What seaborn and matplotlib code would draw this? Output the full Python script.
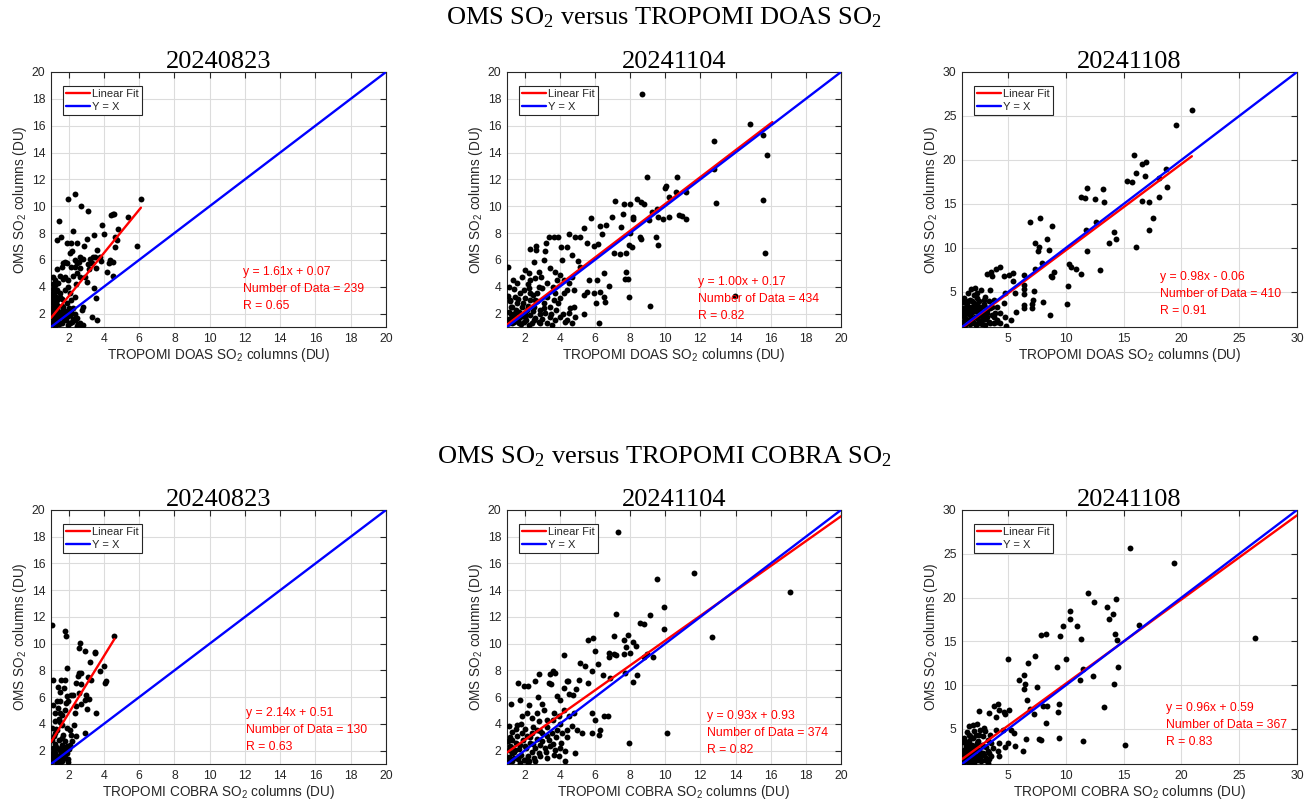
import numpy as np
import pandas as pd
import matplotlib
matplotlib.use("Agg")
import matplotlib.pyplot as plt
import seaborn as sns

# ---------------- data ----------------
dates = ["20240823", "20241104", "20241108"]
products = ["DOAS", "COBRA"]

doas_0823_x = [1.95, 2.34, 1.47, 2.72, 3.12, 2.25, 1.57, 1.36, 1.89, 2.15, 2.46, 2.87, 3.02, 3.46, 3.91, 3.99,
               4.38, 4.5, 4.6, 4.8, 4.74, 4.65, 4.63, 5.37, 6.12, 5.88, 4.35, 4.54, 4.29, 4.19, 3.78, 3.85,
               3.59, 3.38, 3.48, 3.55, 3.31, 3.21, 3.1, 3.17, 2.83, 2.64, 2.6, 2.46, 2.34, 2.17, 2.08, 1.93,
               1.81, 1.7, 1.6, 1.36, 2.15, 2.38, 2.64, 2.47, 2.91, 2.64, 2.23, 1.79, 1.51, 1.66, 1.95, 1.98,
               2.42, 3.06, 3.44, 3.55, 4.54, 3.31, 3.59, 2.81, 2.74, 1.09, 1.23, 1.36, 1.51, 1.29, 1.6, 1.13,
               1.32, 1.7, 1.89, 2.12, 2.36, 2.08, 1.79, 1.13, 1.42, 1.7, 2.08, 2.36, 2.64, 2.83, 2.45, 1.98,
               1.51, 1.23, 1.09, 1.32, 1.6, 1.89, 2.23, 2.17, 1.13, 1.09, 1.21, 1.09,
               1.05, 1.1, 1.05, 1.1, 1.05, 1.1, 1.2, 1.3, 1.4, 1.45, 1.55, 1.65, 1.75, 1.85, 1.95, 2.05,
               2.15, 2.25, 2.35, 2.5, 1.2, 1.35, 1.5, 1.25, 1.4, 2.55, 2.7, 1.6, 1.8, 2.0]
doas_0823_y = [10.5, 10.9, 8.92, 10.0, 9.64, 8.15, 7.68, 7.46, 7.28, 7.28, 7.28, 7.04, 7.58, 7.83, 8.63, 7.93,
               9.32, 9.42, 9.42, 8.28, 7.48, 7.73, 6.99, 9.22, 10.51, 7.04, 6.0, 5.87, 5.79, 5.1, 6.24, 5.89,
               6.74, 6.19, 6.19, 5.37, 5.79, 6.09, 5.69, 5.35, 6.04, 6.24, 5.87, 5.74, 5.99, 6.64, 6.49, 5.74,
               5.84, 5.74, 5.5, 5.3, 5.5, 5.5, 5.37, 5.0, 4.75, 4.7, 4.8, 4.7, 4.8, 4.6, 4.5, 4.0,
               4.2, 4.35, 3.88, 3.14, 4.8, 1.77, 1.52, 2.52, 2.27, 3.86, 4.13, 3.76, 3.51, 3.26, 3.06, 3.01,
               2.64, 2.52, 2.76, 3.01, 3.26, 3.51, 3.76, 2.02, 1.77, 1.65, 1.89, 1.52, 1.27, 1.15, 1.07, 1.15,
               1.27, 1.4, 1.65, 2.27, 2.2, 2.14, 2.39, 1.4, 2.52, 3.51, 4.5, 4.75,
               1.3, 1.8, 2.3, 2.8, 3.3, 4.2, 1.1, 1.5, 2.0, 1.2, 1.9, 1.3, 2.0, 1.5, 1.8, 1.3,
               2.1, 1.6, 2.0, 1.7, 2.6, 3.0, 3.2, 3.6, 4.3, 1.2, 1.1, 2.6, 2.2, 2.4]

doas_1104_x = [8.69, 14.83, 15.55, 15.77, 12.78, 12.8, 12.91, 15.56, 15.7, 13.99, 8.99, 10.68, 10.03, 9.96, 10.22,
               10.62, 11.17, 10.81, 10.98, 11.21, 10.2, 9.86, 9.52, 9.61, 9.27, 9.06, 8.63, 8.8, 7.99, 7.65,
               8.37, 7.14, 7.58, 6.97, 8.16, 8.18, 8.56, 8.65, 8.01, 7.93, 8.1, 9.48, 9.58, 7.78, 7.74, 7.86,
               7.93, 9.11, 7.46, 7.76, 7.44, 7.06, 6.63, 6.3, 6.38, 5.77, 5.36, 6.15, 5.96, 5.55, 5.17, 4.88,
               4.5, 4.05, 4.41, 3.9, 3.69, 3.41, 3.23, 2.63, 2.63, 2.33, 2.52, 3.18, 3.12, 4.13, 4.69, 5.02,
               5.17, 5.64, 6.11, 6.5, 6.27, 5.96, 5.56, 5.39, 6.5, 6.59, 6.08, 5.38, 6.25, 6.78, 1.06, 1.13,
               1.32, 1.57, 1.85, 2.04, 2.23, 2.33, 2.61, 2.8, 2.95, 2.8, 3.46, 3.75, 3.84, 4.03, 4.26, 4.5,
               4.69, 4.79, 4.41, 4.22, 4.03, 3.75, 3.65, 3.46, 3.27, 3.08, 2.89, 3.18, 3.46, 3.75, 4.03, 4.31,
               4.5, 4.79, 4.88, 4.69, 3.56, 2.89, 2.52, 2.23, 1.95, 1.66, 1.38, 1.09, 1.28, 1.47, 1.76, 2.04,
               2.14, 1.85, 1.57, 1.28, 1.09, 1.19, 1.47, 1.76, 2.04, 2.33, 2.52, 2.7, 2.33, 2.61, 1.95, 2.23,
               1.1, 1.2, 1.3, 1.4, 1.5, 1.6, 1.7, 1.8, 1.9, 2.0, 2.1, 2.2, 2.3, 2.4, 2.5, 2.6, 2.7, 2.8,
               2.9, 3.0, 3.1, 3.3, 1.15, 1.25, 1.05, 1.6, 1.4, 3.5, 3.8, 4.2, 4.4, 3.9, 4.6, 2.2, 2.5, 3.0,
               3.3, 3.6]
doas_1104_y = [18.36, 16.15, 15.28, 13.82, 14.83, 12.77, 10.26, 10.46, 6.49, 3.33, 12.2, 12.15, 11.51, 11.38, 10.66,
               11.08, 11.08, 9.35, 9.3, 9.02, 9.22, 9.02, 9.77, 9.22, 9.59, 8.97, 10.34, 10.17, 10.14, 10.17,
               10.51, 10.36, 9.39, 9.22, 9.22, 9.05, 7.73, 7.56, 7.98, 7.11, 6.99, 7.68, 7.09, 5.1, 4.6, 4.6,
               3.21, 2.59, 8.43, 6.49, 6.41, 6.54, 8.6, 8.53, 7.9, 9.15, 8.35, 7.18, 7.04, 7.28, 7.68, 7.68,
               7.93, 6.99, 6.99, 7.71, 7.73, 7.73, 7.28, 7.04, 6.74, 6.81, 5.87, 6.66, 5.99, 5.99, 6.36, 5.94,
               5.5, 4.5, 4.5, 5.0, 3.63, 3.51, 3.63, 3.38, 3.26, 2.89, 2.76, 1.97, 1.32, 4.06, 5.45, 4.0,
               4.5, 4.25, 4.75, 5.25, 5.0, 4.5, 4.63, 5.12, 4.75, 4.0, 5.37, 5.12, 4.5, 4.87, 4.5, 4.25,
               4.75, 3.76, 3.76, 3.51, 3.14, 3.51, 3.01, 2.52, 3.26, 2.76, 2.27, 2.02, 1.77, 1.52, 1.77, 1.4,
               2.02, 2.52, 1.77, 1.27, 1.15, 1.27, 1.52, 1.15, 1.4, 1.27, 1.4, 1.27, 1.77, 2.02, 1.77, 1.77,
               2.27, 2.52, 2.76, 2.52, 2.14, 3.01, 3.26, 3.51, 3.14, 3.01, 2.52, 3.51, 3.51, 3.01, 3.76, 3.88,
               1.6, 2.0, 1.3, 1.9, 2.3, 1.5, 2.1, 1.2, 2.8, 2.0, 1.5, 2.6, 1.9, 1.3, 2.2, 1.7, 2.9, 1.4,
               2.0, 1.6, 2.4, 1.3, 2.9, 2.5, 3.3, 3.1, 3.8, 2.0, 2.3, 2.0, 1.5, 2.8, 2.4, 4.2, 3.4, 3.9,
               4.3, 4.0]

doas_1108_x = [20.9, 19.49, 15.92, 16.9, 16.61, 16.06, 16.84, 15.31, 15.69, 18.02, 18.65, 18.74, 18.02, 16.61,
               17.22, 17.56, 17.22, 16.06, 11.8, 11.34, 11.63, 12.49, 13.18, 13.3, 12.58, 11.74, 11.8, 11.34,
               10.85, 10.45, 10.3, 12.95, 13.7, 14.19, 14.31, 10.19, 10.1, 8.81, 8.4, 8.49, 7.91, 8.95, 8.69,
               8.83, 6.85, 7.71, 7.31, 7.68, 7.54, 7.36, 7.25, 7.16, 7.08, 7.05, 7.97, 8.6, 6.36, 6.39, 6.39,
               6.41, 6.33, 6.41, 5.38, 5.03, 5.41, 5.61, 5.7, 5.2, 4.25, 3.91, 3.16, 3.53, 3.62, 3.42, 2.61,
               2.15, 1.78, 4.65, 4.74, 4.6, 4.74, 4.8, 4.31, 4.02, 3.74, 3.45, 3.16, 2.87, 2.58, 2.3, 2.01,
               1.72, 1.43, 1.14, 1.29, 1.58, 1.86, 2.15, 2.44, 2.73, 3.02, 3.31, 3.74, 4.02, 4.31, 1.09, 1.37,
               1.58, 1.86, 2.15, 2.44, 2.73, 3.02, 1.72, 2.3, 2.58, 2.87, 3.16, 3.59, 3.88, 2.01, 1.49, 2.3,
               1.1, 1.2, 1.3, 1.4, 1.5, 1.6, 1.7, 1.8, 1.9, 2.0, 2.1, 2.2, 2.3, 2.4, 2.5, 2.6, 2.7, 2.8,
               2.9, 3.0, 3.2, 3.4, 3.6, 3.8, 4.0, 1.05, 1.2, 1.5, 1.9, 2.5, 3.0, 3.3, 1.1, 1.35, 2.05]
doas_1108_y = [25.68, 23.93, 20.51, 19.79, 19.49, 18.5, 18.12, 17.59, 17.51, 17.93, 18.99, 16.9, 15.77, 15.31,
               15.2, 13.45, 12.05, 10.15, 16.76, 15.84, 15.69, 15.54, 16.64, 15.27, 12.99, 12.05, 9.66, 7.04,
               7.57, 7.8, 8.18, 7.49, 10.6, 11.82, 10.98, 5.67, 3.58, 12.54, 10.98, 9.73, 8.33, 7.26, 6.81,
               6.73, 12.92, 13.38, 10.57, 10.15, 9.62, 7.57, 5.06, 4.08, 3.58, 3.13, 3.85, 2.4, 6.96, 5.75,
               5.37, 4.76, 3.51, 3.13, 7.11, 6.92, 6.28, 4.83, 2.67, 1.8, 7.8, 7.64, 7.04, 7.26, 6.81, 5.21,
               5.21, 5.4, 5.29, 6.81, 4.83, 3.7, 2.18, 1.15, 2.56, 3.32, 4.08, 3.13, 2.56, 4.08, 3.32, 4.27,
               3.7, 4.08, 3.51, 2.56, 1.99, 1.42, 1.8, 2.18, 1.42, 1.8, 1.23, 1.61, 1.42, 1.8, 1.42, 3.13,
               2.75, 3.13, 2.75, 3.13, 2.75, 2.56, 3.32, 2.37, 1.99, 2.37, 1.99, 2.18, 2.37, 2.56, 4.64, 4.83, 4.83,
               1.6, 2.2, 1.2, 2.9, 1.8, 2.5, 1.3, 3.3, 2.0, 1.5, 2.8, 1.2, 3.6, 2.3, 1.7, 3.0, 1.3, 2.4,
               3.6, 1.9, 2.9, 1.5, 3.3, 2.1, 1.6, 3.8, 4.3, 4.0, 4.0, 4.0, 4.4, 3.9, 2.7, 3.3, 3.4]

cobra_0823_x = [1.04, 1.79, 1.87, 2.63, 2.57, 2.91, 3.48, 3.51, 3.21, 4.59, 4.02, 3.78, 4.14, 4.06, 1.91, 3.1,
                3.27, 2.59, 2.7, 2.53, 1.09, 1.57, 1.77, 2.4, 2.7, 1.49, 1.76, 1.4, 1.93, 2.13, 2.25, 2.57,
                2.98, 3.17, 2.91, 3.02, 3.55, 1.98, 1.85, 1.51, 1.13, 1.32, 2.38, 1.81, 1.51, 2.42, 2.68, 2.3,
                1.93, 2.08, 1.25, 1.51, 1.04, 1.36, 1.23, 1.6, 1.43, 2.12, 2.93, 1.79, 1.89, 2.06, 1.36, 1.51,
                1.13, 1.32, 1.6, 1.89, 1.09, 1.42, 1.51, 1.96, 1.7, 1.23, 1.09,
                1.05, 1.1, 1.15, 1.2, 1.25, 1.3, 1.35, 1.4, 1.45, 1.5, 1.55, 1.6, 1.65, 1.7, 1.75, 1.8,
                1.85, 1.95, 2.0, 1.05, 1.15, 1.3, 1.45, 1.6, 1.7, 1.2, 1.4, 1.65, 2.2, 2.4]
cobra_0823_y = [11.41, 10.96, 10.54, 10.04, 9.67, 9.44, 9.39, 9.29, 8.62, 10.54, 8.3, 7.92, 7.18, 7.05, 8.15, 7.5,
                7.3, 7.8, 7.8, 7.6, 7.3, 7.3, 7.3, 7.05, 7.0, 6.35, 6.68, 6.75, 6.1, 6.18, 6.18, 6.3,
                6.18, 5.86, 5.81, 5.11, 4.81, 5.68, 5.56, 5.68, 5.38, 5.68, 4.81, 5.01, 4.81, 5.36, 5.51, 3.94,
                3.69, 3.56, 4.19, 4.14, 3.69, 3.56, 3.32, 2.94, 2.82, 3.19, 3.32, 2.69, 2.32, 2.39, 2.2, 2.02,
                1.82, 1.57, 1.7, 1.82, 1.45, 1.2, 1.02, 1.17, 1.37, 2.49, 2.2,
                1.2, 1.6, 2.0, 1.3, 1.8, 2.3, 1.1, 1.6, 2.1, 1.4, 1.9, 2.4, 1.2, 1.8, 2.2, 1.5,
                2.0, 1.4, 2.1, 2.8, 3.1, 3.6, 4.4, 3.9, 3.2, 4.8, 5.2, 4.7, 2.7, 3.1]

cobra_1104_x = [7.29, 9.52, 11.63, 17.1, 9.94, 7.21, 9.16, 8.58, 8.77, 9.92, 12.69, 10.11, 7.93, 7.06, 7.63, 7.91,
                8.14, 8.33, 7.78, 5.62, 5.92, 6.0, 6.78, 7.06, 7.2, 6.8, 7.63, 8.01, 8.77, 8.95, 9.28, 6.19,
                6.47, 6.87, 7.72, 8.42, 8.16, 5.41, 5.17, 5.83, 5.07, 5.58, 4.94, 4.54, 4.75, 4.48, 4.41, 4.26,
                3.59, 3.46, 3.75, 3.37, 3.5, 2.84, 2.61, 1.61, 1.95, 2.17, 1.76, 1.23, 2.23, 2.74, 2.99, 3.84,
                4.03, 4.22, 5.83, 6.02, 6.49, 6.74, 6.27, 5.83, 6.21, 5.26, 4.88, 4.31, 1.57, 1.09, 1.85, 2.14,
                2.42, 2.7, 3.08, 3.27, 3.65, 3.94, 4.22, 4.5, 4.79, 4.69, 4.98, 4.41, 4.13, 3.84, 3.56, 3.27,
                2.99, 2.7, 2.42, 2.14, 1.85, 1.57, 1.28, 1.19, 1.47, 1.76, 2.04, 2.33, 2.61, 2.89, 3.18, 3.46,
                3.75, 4.03, 4.31, 3.94, 3.65, 3.27, 2.89, 2.52, 2.23, 1.95, 1.66, 1.38, 1.09, 1.76, 2.17, 1.28,
                1.09,
                1.1, 1.2, 1.3, 1.4, 1.5, 1.6, 1.7, 1.8, 1.9, 2.0, 2.1, 2.2, 2.3, 2.4, 2.5, 2.6, 2.7, 2.8,
                2.9, 3.0, 3.2, 3.4, 3.6, 3.8, 4.1, 1.15, 1.3, 1.5, 1.8, 2.0, 2.5, 2.8, 3.3, 3.6, 4.0, 4.4, 1.05]
cobra_1104_y = [18.38, 14.84, 15.32, 13.85, 12.78, 12.23, 12.18, 11.53, 11.46, 11.08, 10.49, 3.32, 2.57, 10.54,
                10.29, 10.66, 10.09, 9.79, 9.74, 10.24, 10.41, 9.42, 9.29, 9.24, 9.17, 8.97, 9.24, 9.29, 9.04,
                9.24, 8.99, 8.47, 7.67, 7.42, 7.8, 7.67, 7.1, 8.3, 8.54, 7.92, 7.3, 7.05, 6.6, 6.23, 6.18,
                7.22, 7.22, 9.17, 7.92, 7.75, 7.8, 7.05, 7.0, 7.75, 7.18, 7.05, 6.8, 6.8, 5.81, 5.51, 5.41,
                6.0, 5.51, 6.05, 5.81, 6.68, 4.81, 4.31, 4.61, 4.61, 3.56, 3.32, 3.19, 3.32, 1.82, 1.2, 3.94,
                3.86, 4.56, 4.81, 4.44, 4.81, 5.06, 4.31, 4.81, 4.56, 5.06, 4.56, 4.81, 3.81, 3.56, 3.56, 3.32,
                3.56, 3.32, 3.07, 3.32, 3.56, 3.32, 3.07, 3.32, 3.07, 2.82, 2.32, 2.07, 2.44, 2.32, 2.57, 2.2,
                2.44, 2.2, 2.32, 2.07, 2.2, 1.95, 1.57, 1.7, 1.45, 1.57, 1.45, 1.2, 1.32, 1.57, 1.45, 1.2,
                1.07, 1.02, 1.82, 2.07,
                1.5, 2.3, 1.2, 1.9, 2.6, 1.4, 2.1, 1.7, 2.8, 1.3, 2.2, 1.6, 3.0, 1.9, 2.5, 1.2, 2.9, 1.8,
                3.5, 2.7, 1.9, 2.8, 2.5, 3.0, 2.6, 3.0, 3.4, 3.6, 4.0, 3.6, 3.8, 4.2, 3.8, 4.3, 4.0, 3.0, 2.7]

cobra_1108_x = [15.52, 19.35, 11.92, 14.36, 12.46, 13.59, 14.05, 10.33, 10.33, 13.73, 10.94, 9.76, 16.35, 7.88,
                8.23, 9.5, 11.29, 14.27, 14.41, 26.4, 7.33, 4.97, 6.71, 9.99, 9.21, 14.54, 11.48, 12.32, 11.2,
                14.13, 13.33, 6.33, 5.95, 6.43, 7.52, 6.41, 6.59, 6.87, 7.19, 8.03, 8.4, 8.26, 9.32, 9.44, 9.38,
                11.46, 15.15, 7.86, 7.68, 6.5, 6.27, 5.09, 4.72, 4.6, 4.08, 3.79, 4.23, 3.94, 3.3, 2.5, 2.93,
                2.58, 1.58, 1.92, 2.3, 3.94, 4.51, 5.23, 5.52, 5.61, 4.95, 4.23, 4.72, 4.08, 4.23, 3.51, 3.65,
                3.22, 2.79, 2.35, 1.92, 1.49, 1.2, 1.35, 1.78, 2.21, 2.64, 3.07, 2.64, 2.21, 1.78, 1.35, 1.2,
                1.63, 2.07, 3.22, 1.49, 2.07, 2.5, 2.93, 3.36, 1.2, 1.63, 2.21, 2.79, 3.22,
                1.05, 1.1, 1.15, 1.2, 1.3, 1.35, 1.4, 1.5, 1.55, 1.6, 1.7, 1.75, 1.8, 1.85, 1.95, 2.0,
                2.1, 2.2, 2.3, 2.4, 2.5, 2.6, 2.7, 2.85, 3.0, 3.1, 3.3, 3.5, 1.05, 1.2, 1.4, 1.7, 2.0, 2.5,
                3.0, 3.4]
cobra_1108_y = [25.71, 24.0, 20.5, 19.81, 19.47, 18.98, 18.14, 18.52, 17.61, 17.53, 16.77, 16.7, 16.89, 15.71,
                15.79, 15.56, 15.25, 15.79, 15.18, 15.37, 13.37, 12.97, 12.52, 13.01, 12.06, 12.06, 11.83, 11.0,
                10.54, 10.16, 7.5, 11.11, 10.54, 10.16, 9.74, 9.59, 8.26, 7.27, 6.74, 7.66, 7.66, 5.68, 6.97,
                7.8, 3.96, 3.58, 3.2, 3.77, 3.85, 3.85, 2.44, 7.2, 6.7, 6.89, 7.88, 7.65, 7.2, 6.36, 6.82,
                7.0, 5.1, 4.84, 5.3, 5.49, 5.6, 4.91, 4.84, 4.91, 4.53, 3.09, 3.39, 3.39, 2.94, 2.44, 1.87,
                1.95, 2.82, 2.44, 3.01, 3.58, 3.96, 3.39, 3.77, 2.82, 3.01, 2.63, 2.25, 1.68, 1.3, 1.68, 2.06,
                1.87, 1.3, 1.11, 1.11, 1.11, 2.44, 2.44, 2.06, 2.06, 1.57, 2.25, 4.34, 4.34, 4.15, 3.77,
                1.5, 2.0, 2.6, 1.2, 1.8, 3.0, 2.3, 1.5, 2.8, 3.6, 1.9, 2.5, 1.3, 3.2, 2.1, 1.6,
                2.9, 1.9, 3.4, 1.4, 2.6, 1.8, 3.2, 2.3, 1.5, 2.9, 2.2, 3.4, 3.5, 4.0, 4.6, 4.2, 4.8, 4.3,
                4.8, 4.3]

panel_x = [doas_0823_x, doas_1104_x, doas_1108_x, cobra_0823_x, cobra_1104_x, cobra_1108_x]
panel_y = [doas_0823_y, doas_1104_y, doas_1108_y, cobra_0823_y, cobra_1104_y, cobra_1108_y]

fit_slope = [1.61, 1.00, 0.98, 2.14, 0.93, 0.96]
fit_intercept = [0.07, 0.17, -0.06, 0.51, 0.93, 0.59]
fit_x_min = [1.0, 1.0, 1.0, 1.0, 1.0, 1.0]
fit_x_max = [6.1, 16.1, 20.9, 4.6, 20.0, 30.0]
n_data = [239, 434, 410, 130, 374, 367]
r_value = [0.65, 0.82, 0.91, 0.63, 0.82, 0.83]
axis_max = [20, 20, 30, 20, 20, 30]
axis_min = 1

# ---------------- style ----------------
sns.set_theme(style="white")
plt.rcParams["font.family"] = ["Liberation Sans", "DejaVu Sans"]
plt.rcParams["axes.unicode_minus"] = False

TXT = "#262626"
fig = plt.figure(figsize=(13.05, 8.05), dpi=100)

W, H = 1305.0, 805.0
lefts = [51, 507, 962]
widths = [335, 334, 335]
tops = [72, 510]
bottoms = [327, 764]

text_pos = [(0.573, 0.216), (0.572, 0.176), (0.591, 0.196),
            (0.582, 0.200), (0.599, 0.189), (0.609, 0.220)]
line_step = 0.067

sub2 = r"$\mathregular{_2}$"

for i in range(6):
    row, col = divmod(i, 3)
    ax = fig.add_axes([lefts[col] / W, (H - bottoms[row]) / H,
                       widths[col] / W, (bottoms[row] - tops[row]) / H])
    df = pd.DataFrame({"x": panel_x[i], "y": panel_y[i]})
    sns.scatterplot(data=df, x="x", y="y", ax=ax, color="black", s=18,
                    linewidth=0, zorder=3, legend=False)
    fx = np.array([fit_x_min[i], fit_x_max[i]])
    ax.plot(fx, fit_slope[i] * fx + fit_intercept[i], color="#ff0000", lw=1.7,
            label="Linear Fit", zorder=4)
    ix = np.array([axis_min, axis_max[i]])
    ax.plot(ix, ix, color="#0000ff", lw=1.7, label="Y = X", zorder=5)

    ax.set_xlim(axis_min, axis_max[i])
    ax.set_ylim(axis_min, axis_max[i])
    step = 5 if axis_max[i] == 30 else 2
    ticks = np.arange(step, axis_max[i] + 0.1, step)
    ax.set_xticks(ticks)
    ax.set_yticks(ticks)
    ax.set_xticklabels([f"{int(t)}" for t in ticks])
    ax.set_yticklabels([f"{int(t)}" for t in ticks])
    ax.grid(True, color="#dcdcdc", lw=0.8)
    ax.set_axisbelow(True)
    ax.tick_params(direction="in", length=4, width=0.8, top=True, right=True,
                   labelsize=8.8, colors=TXT, pad=4)
    for sp in ax.spines.values():
        sp.set_color("#262626")
        sp.set_linewidth(0.8)

    prod = products[row]
    ax.set_xlabel(f"TROPOMI {prod} SO{sub2} columns (DU)", fontsize=9.8, color=TXT, labelpad=1)
    ax.set_ylabel(f"OMS SO{sub2} columns (DU)", fontsize=9.8, color=TXT, labelpad=2)
    ax.set_title(dates[col], family="Liberation Serif", fontsize=19, color="black", pad=3)

    leg = ax.legend(loc="upper left", bbox_to_anchor=(0.036, 0.945), borderaxespad=0,
                    fontsize=8, frameon=True, fancybox=False, framealpha=1,
                    edgecolor="#262626", handlelength=2.1, handletextpad=0.2,
                    borderpad=0.3, labelspacing=0.2)
    leg.get_frame().set_linewidth(0.8)

    sign = "+" if fit_intercept[i] >= 0 else "-"
    lines = [f"y = {fit_slope[i]:.2f}x {sign} {abs(fit_intercept[i]):.2f}",
             f"Number of Data = {n_data[i]}",
             f"R = {r_value[i]:.2f}"]
    tx, ty = text_pos[i]
    for k, s in enumerate(lines):
        ax.text(tx, ty - k * line_step, s, transform=ax.transAxes, color="#ff0000",
                fontsize=8.8, va="center", ha="left")

fig.text(664 / W, 1 - 18 / H, f"OMS SO{sub2} versus TROPOMI DOAS SO{sub2}",
         family="Liberation Serif", fontsize=19, ha="center", va="center", color="black")
fig.text(664 / W, 1 - 457 / H, f"OMS SO{sub2} versus TROPOMI COBRA SO{sub2}",
         family="Liberation Serif", fontsize=19, ha="center", va="center", color="black")

fig.savefig("out.png", dpi=100)
